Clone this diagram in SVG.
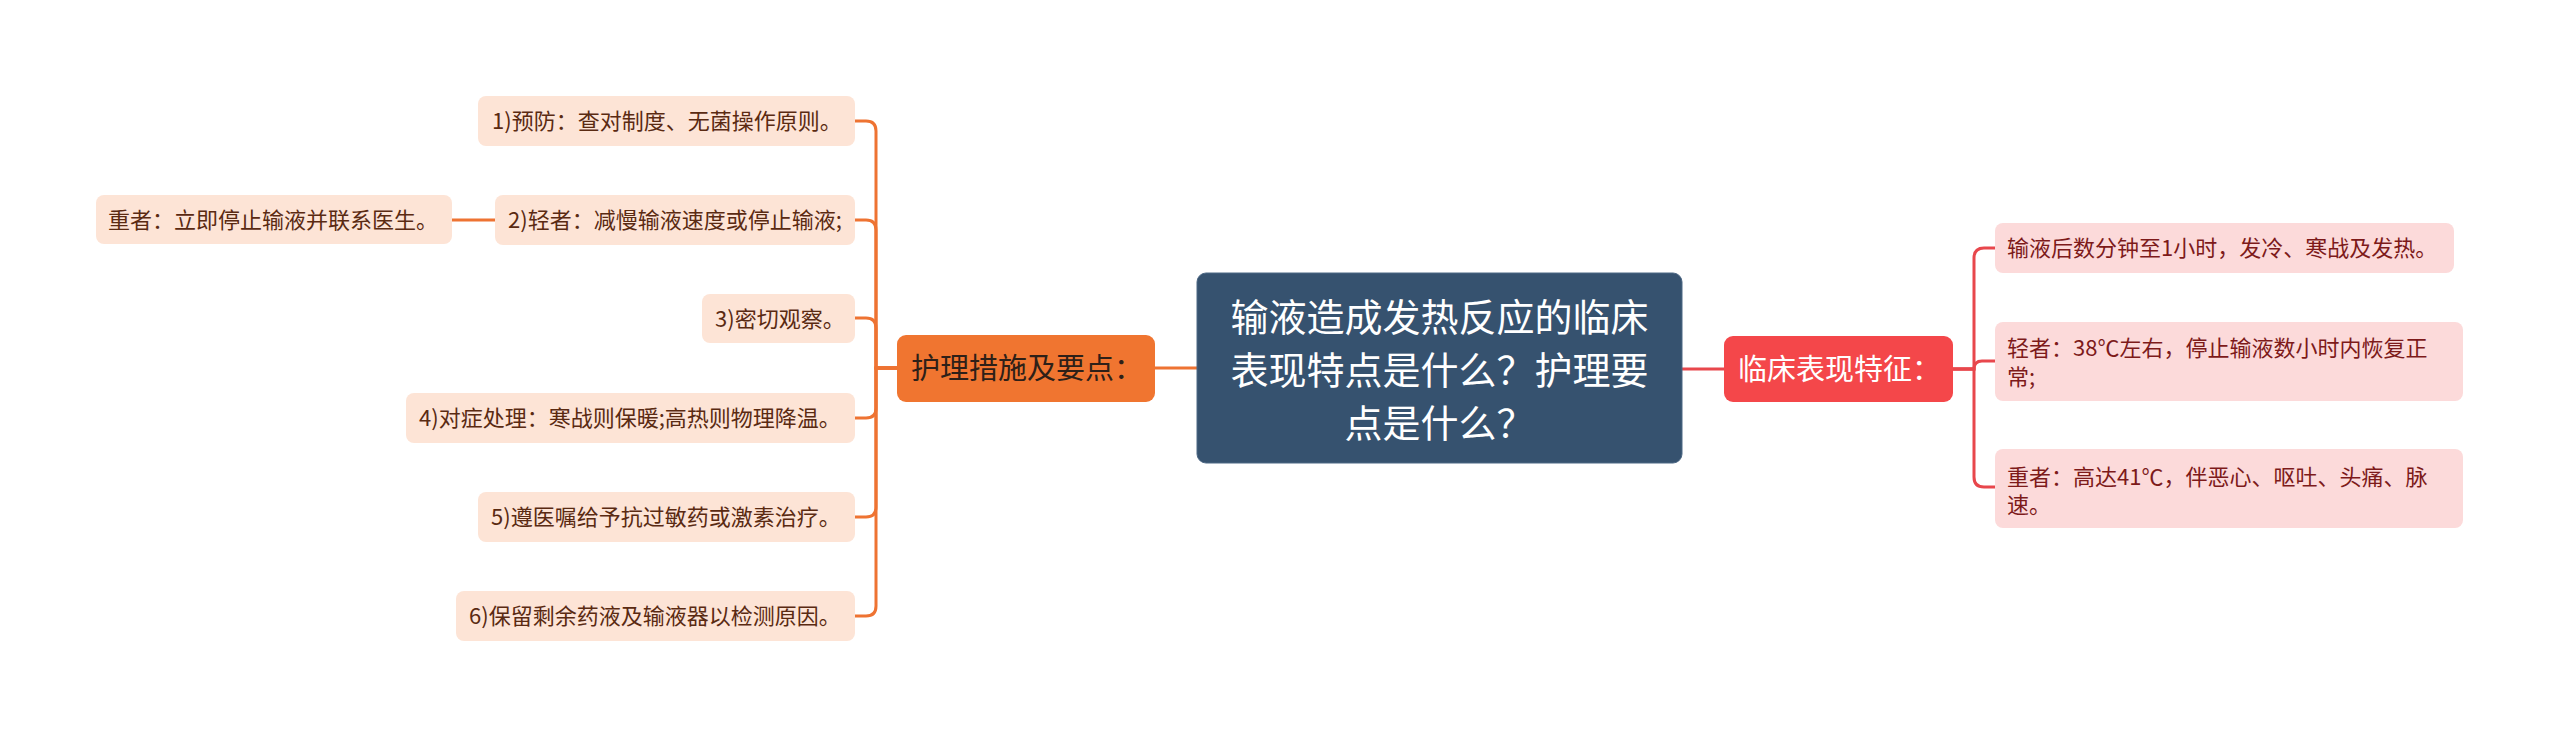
<svg xmlns="http://www.w3.org/2000/svg" width="2560" height="737" viewBox="0 0 2560 737">
<style>
text{font-family:"Noto Sans CJK SC","Noto Sans",sans-serif}
.c{fill:#ffffff;font-size:38px}
.o{fill:#f07530}
.ot{fill:#2e2018;font-size:29px}
.r{fill:#f4474a}
.rt{fill:#ffffff;font-size:29px}
.lc{fill:#fde4d6}
.lt{fill:#5a2a12;font-size:22px}
.rc{fill:#fcdada}
.rct{fill:#7d1a1a;font-size:22px}
.eo{fill:none;stroke:#ee7332;stroke-width:3}
.er{fill:none;stroke:#e8474c;stroke-width:3}
</style>
<rect width="2560" height="737" fill="#ffffff"/>
<g id="connectors">
<path class="eo" d="M1197,368 H1155"/>
<path class="eo" d="M897,368 H876 V131 Q876,121 866,121 H855"/>
<path class="eo" d="M897,368 H876 V230 Q876,220 866,220 H855"/>
<path class="eo" d="M897,368 H876 V328 Q876,318 866,318 H855"/>
<path class="eo" d="M897,368 H876 V408 Q876,418 866,418 H855"/>
<path class="eo" d="M897,368 H876 V507 Q876,517 866,517 H855"/>
<path class="eo" d="M897,368 H876 V606 Q876,616 866,616 H855"/>
<path class="eo" d="M495,220 H452"/>
<path class="er" d="M1682,369 H1724"/>
<path class="er" d="M1953,369 H1974 V258 Q1974,248 1984,248 H1995"/>
<path class="er" d="M1953,369 H1974 V369 Q1974,361 1982,361 H1995"/>
<path class="er" d="M1953,369 H1974 V477 Q1974,487 1984,487 H1995"/>
</g>
<g id="center">
<rect x="1197" y="273" width="485" height="190" rx="9" fill="#36526f" stroke="#4d6885" stroke-width="1"/>
<text class="c" text-anchor="middle" x="1439.5" y="331">输液造成发热反应的临床</text>
<text class="c" text-anchor="middle" x="1439.5" y="384">表现特点是什么？护理要</text>
<text class="c" text-anchor="middle" x="1439.5" y="437">点是什么？</text>
</g>
<g id="n-left">
<rect class="o" x="897" y="335" width="258" height="67" rx="9"/>
<text class="ot" x="911" y="379">护理措施及要点：</text>
</g>
<g id="n-l1">
<rect class="lc" x="478" y="96" width="377" height="50" rx="8"/>
<text class="lt" x="492" y="129">1)预防：查对制度、无菌操作原则。</text>
</g>
<g id="n-l2">
<rect class="lc" x="495" y="195" width="360" height="50" rx="8"/>
<text class="lt" x="508" y="228">2)轻者：减慢输液速度或停止输液;</text>
</g>
<g id="n-l2a">
<rect class="lc" x="96" y="195" width="356" height="49" rx="8"/>
<text class="lt" x="108" y="228">重者：立即停止输液并联系医生。</text>
</g>
<g id="n-l3">
<rect class="lc" x="702" y="294" width="153" height="49" rx="8"/>
<text class="lt" x="715" y="327">3)密切观察。</text>
</g>
<g id="n-l4">
<rect class="lc" x="406" y="393" width="449" height="50" rx="8"/>
<text class="lt" x="419" y="426">4)对症处理：寒战则保暖;高热则物理降温。</text>
</g>
<g id="n-l5">
<rect class="lc" x="478" y="492" width="377" height="50" rx="8"/>
<text class="lt" x="491" y="525">5)遵医嘱给予抗过敏药或激素治疗。</text>
</g>
<g id="n-l6">
<rect class="lc" x="456" y="591" width="399" height="50" rx="8"/>
<text class="lt" x="469" y="624">6)保留剩余药液及输液器以检测原因。</text>
</g>
<g id="n-right">
<rect class="r" x="1724" y="336" width="229" height="66" rx="9"/>
<text class="rt" x="1738" y="380">临床表现特征：</text>
</g>
<g id="n-r1">
<rect class="rc" x="1995" y="223" width="459" height="50" rx="8"/>
<text class="rct" x="2007" y="256">输液后数分钟至1小时，发冷、寒战及发热。</text>
</g>
<g id="n-r2">
<rect class="rc" x="1995" y="322" width="468" height="79" rx="8"/>
<text class="rct" x="2007" y="356">轻者：38℃左右，停止输液数小时内恢复正</text>
<text class="rct" x="2007" y="385">常;</text>
</g>
<g id="n-r3">
<rect class="rc" x="1995" y="449" width="468" height="79" rx="8"/>
<text class="rct" x="2007" y="485">重者：高达41℃，伴恶心、呕吐、头痛、脉</text>
<text class="rct" x="2007" y="513">速。</text>
</g>
</svg>
